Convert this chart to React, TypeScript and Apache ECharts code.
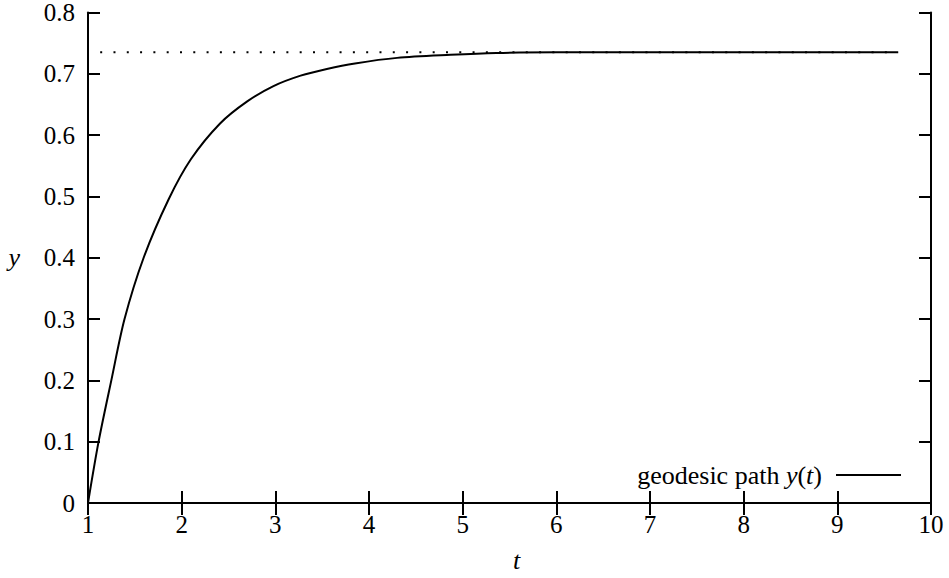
import React, { useEffect, useRef } from "react";
import * as echarts from "echarts";

const tValues = [1, 1.113, 1.249, 1.39, 1.594, 1.86, 2.1, 2.41, 2.7, 2.98, 3.27, 3.55, 3.85, 4.3, 4.87, 5.36, 6, 7, 8, 9, 9.65];
const yValues = [0, 0.1, 0.2, 0.3, 0.4, 0.495, 0.561, 0.619, 0.655, 0.68, 0.697, 0.708, 0.717, 0.726, 0.731, 0.734, 0.735, 0.735, 0.735, 0.735, 0.735];
const asymptoteT = [1.13, 9.65];
const asymptoteY = [0.735, 0.735];
const legendName = "geodesic path y(t)";

const FONT = "'Liberation Serif', 'DejaVu Serif', serif";

export default function App() {
  const ref = useRef<HTMLDivElement>(null);
  useEffect(() => {
    if (!ref.current) return;
    const chart = echarts.init(ref.current, undefined, { renderer: "svg" });
    const axisLine = { show: true, lineStyle: { color: "#000", width: 2 } };
    const axisTick = { show: true, inside: true, length: 12, lineStyle: { color: "#000", width: 2 } };
    chart.setOption({
      animation: false,
      backgroundColor: "#fff",
      grid: { left: 88, right: 18, top: 10, bottom: 70 },
      legend: {
        show: true,
        data: [legendName],
        right: 43,
        top: 457,
        align: "right",
        itemWidth: 65,
        itemHeight: 2,
        itemGap: 12,
        icon: "rect",
        formatter: () => "{a|geodesic path }{i|y}{a|(}{i|t}{e|)}",
        textStyle: {
          rich: {
            a: { fontFamily: FONT, fontSize: 26, color: "#000" },
            i: { fontFamily: FONT, fontSize: 26, fontStyle: "italic", color: "#000" },
            e: { fontFamily: FONT, fontSize: 26, color: "#000", padding: [0, 9, 0, 0] },
          },
        },
      },
      xAxis: [
        {
          type: "value",
          min: 1,
          max: 10,
          interval: 1,
          position: "bottom",
          axisLine,
          axisTick,
          splitLine: { show: false },
          axisLabel: { color: "#000", fontFamily: FONT, fontSize: 25, margin: 9 },
          name: "t",
          nameLocation: "middle",
          nameGap: 44,
          nameTextStyle: { color: "#000", fontFamily: FONT, fontSize: 26, fontStyle: "italic", padding: [0, 0, 0, 14] },
        },
        {
          type: "value",
          min: 1,
          max: 10,
          interval: 1,
          position: "top",
          axisLine,
          axisTick,
          splitLine: { show: false },
          axisLabel: { show: false },
        },
      ],
      yAxis: [
        {
          type: "value",
          min: 0,
          max: 0.8,
          interval: 0.1,
          position: "left",
          axisLine,
          axisTick,
          splitLine: { show: false },
          axisLabel: { color: "#000", fontFamily: FONT, fontSize: 25, margin: 13 },
          name: "y",
          nameLocation: "middle",
          nameGap: 68,
          nameRotate: 0,
          nameTextStyle: { color: "#000", fontFamily: FONT, fontSize: 26, fontStyle: "italic", padding: [0, 0, 28, 0] },
        },
        {
          type: "value",
          min: 0,
          max: 0.8,
          interval: 0.1,
          position: "right",
          axisLine,
          axisTick,
          splitLine: { show: false },
          axisLabel: { show: false },
        },
      ],
      series: [
        {
          name: "asymptote",
          type: "line",
          data: asymptoteT.map((t, i) => [t, asymptoteY[i]]),
          symbol: "none",
          lineStyle: { color: "#000", width: 2, type: [2, 11.3] },
          silent: true,
        },
        {
          name: legendName,
          type: "line",
          data: tValues.map((t, i) => [t, yValues[i]]),
          symbol: "none",
          smooth: 0.3,
          lineStyle: { color: "#000", width: 2 },
          itemStyle: { color: "#000" },
        },
      ],
    });
    return () => chart.dispose();
  }, []);
  return <div ref={ref} style={{ width: 949, height: 578, position: "absolute", left: 0, top: 0 }} />;
}
